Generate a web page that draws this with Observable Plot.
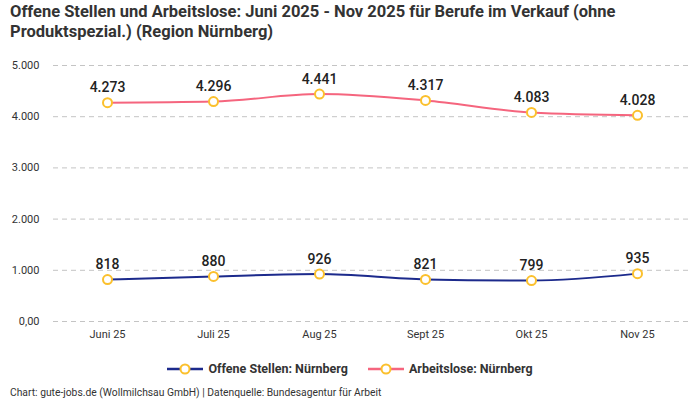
<!DOCTYPE html>
<html>
<head>
<meta charset="utf-8">
<script src="https://cdn.jsdelivr.net/npm/d3@7"></script>
<script src="https://cdn.jsdelivr.net/npm/@observablehq/plot@0.6"></script>
<style>
  html, body { margin: 0; padding: 0; background: #fff; }
  body { width: 700px; height: 400px; overflow: hidden; font-family: Roboto, "Noto Sans", sans-serif; position: relative; }
  #title { position: absolute; left: 10px; top: 2px; width: 680px; font-size: 16.5px; font-weight: 700; color: #333; line-height: 20px; }
  #chart { position: absolute; left: 0; top: 45px; }
  #legend { position: absolute; left: 0; top: 361px; width: 700px; display: flex; justify-content: center; gap: 20px; font-size: 12.5px; font-weight: 700; color: #333; }
  #legend .item { display: flex; align-items: center; gap: 5px; }
  #caption { position: absolute; left: 10px; top: 386px; font-size: 10.3px; color: #333; }
</style>
</head>
<body>
<div id="title">Offene Stellen und Arbeitslose: Juni 2025 - Nov 2025 für Berufe im Verkauf (ohne Produktspezial.) (Region Nürnberg)</div>
<div id="chart"></div>
<div id="legend"></div>
<div id="caption">Chart: gute-jobs.de (Wollmilchsau GmbH) | Datenquelle: Bundesagentur für Arbeit</div>
<script>
const months = ["Juni 25", "Juli 25", "Aug 25", "Sept 25", "Okt 25", "Nov 25"];
const offeneStellen = [818, 880, 926, 821, 799, 935];
const arbeitslose = [4273, 4296, 4441, 4317, 4083, 4028];
const seriesNames = ["Offene Stellen: Nürnberg", "Arbeitslose: Nürnberg"];
const seriesColors = ["#1c2a8c", "#f5657e"];
const yTicks = [0, 1000, 2000, 3000, 4000, 5000];
const yTickLabels = ["0,00", "1.000", "2.000", "3.000", "4.000", "5.000"];
const pointStroke = "#fbc02d";

const data = [];
months.forEach((m, i) => {
  data.push({month: m, value: offeneStellen[i], series: seriesNames[0]});
  data.push({month: m, value: arbeitslose[i], series: seriesNames[1]});
});
const fmt = v => d3.format(",")(v).replace(/,/g, ".");

const chart = Plot.plot({
  width: 700,
  height: 300,
  marginTop: 20,
  marginBottom: 24,
  marginLeft: 53,
  marginRight: 10,
  style: {fontFamily: "Roboto, 'Noto Sans', sans-serif", fontSize: "11px", color: "#333"},
  x: {type: "point", domain: months, padding: 0.5, label: null, tickSize: 0, tickPadding: 8},
  y: {domain: [0, 5000], ticks: yTicks, tickFormat: v => yTickLabels[yTicks.indexOf(v)], label: null, tickSize: 0, tickPadding: 14},
  color: {domain: seriesNames, range: seriesColors},
  marks: [
    Plot.gridY(yTicks, {stroke: "#c4c4c4", strokeOpacity: 1, strokeDasharray: "5,4"}),
    Plot.axisY({ticks: yTicks, tickFormat: v => yTickLabels[yTicks.indexOf(v)], tickSize: 0, tickPadding: 14, fontSize: 11, fill: "#333"}),
    Plot.axisX({tickSize: 0, tickPadding: 9, fontSize: 11, fill: "#333"}),
    Plot.line(data, {x: "month", y: "value", z: "series", stroke: "series", strokeWidth: 2, curve: "monotone-x"}),
    Plot.dot(data, {x: "month", y: "value", r: 4.5, fill: "#fff", stroke: pointStroke, strokeWidth: 2}),
    Plot.text(data, {x: "month", y: "value", text: d => fmt(d.value), dy: -15, fontSize: 14, fontWeight: 500, fill: "#222"})
  ]
});
document.getElementById("chart").appendChild(chart);

const legend = document.getElementById("legend");
seriesNames.forEach((name, i) => {
  const item = document.createElement("div");
  item.className = "item";
  item.innerHTML = `<svg width="36" height="14"><line x1="0" y1="7" x2="36" y2="7" stroke="${seriesColors[i]}" stroke-width="2.5"/><circle cx="18" cy="7" r="4.5" fill="#fff" stroke="${pointStroke}" stroke-width="2"/></svg><span>${name}</span>`;
  legend.appendChild(item);
});
</script>
</body>
</html>
